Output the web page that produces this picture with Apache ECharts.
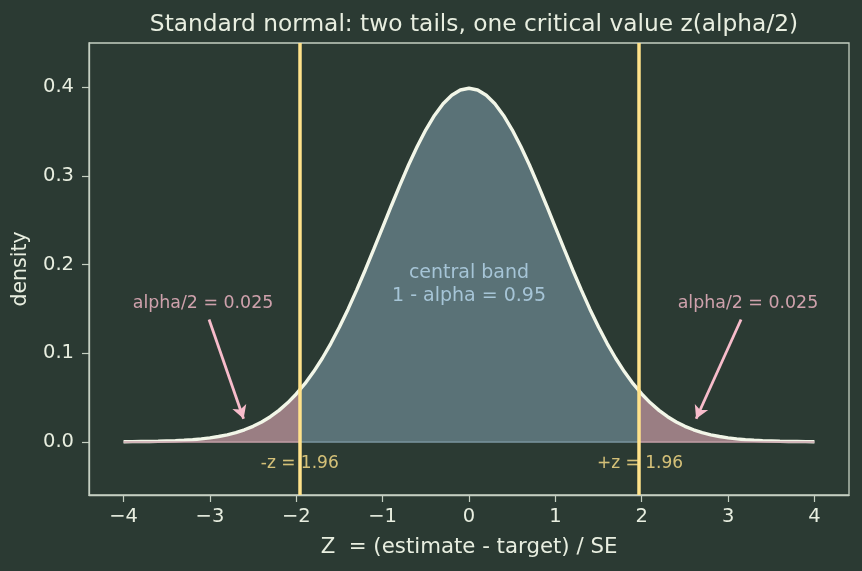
<!DOCTYPE html>
<html>
<head>
<meta charset="utf-8">
<title>Standard normal two tails</title>
<script src="https://cdn.jsdelivr.net/npm/echarts@6/dist/echarts.min.js"></script>
</head>
<body style="margin:0;background:#2b3a33;">
<div id="main" style="width:862px;height:571px;"></div>
<script type="text/javascript">
// z grid (step 0.1) and standard normal density
var zValues = [];
for (var k = -40; k <= 40; k++) zValues.push(k / 10);
var density = [
  0.0001, 0.0002, 0.0003, 0.0004, 0.0006, 0.0009, 0.0012, 0.0017, 0.0024, 0.0033,
  0.0044, 0.0060, 0.0079, 0.0104, 0.0136, 0.0175, 0.0224, 0.0283, 0.0355, 0.0440,
  0.0540, 0.0656, 0.0790, 0.0940, 0.1109, 0.1295, 0.1497, 0.1714, 0.1942, 0.2179,
  0.2420, 0.2661, 0.2897, 0.3123, 0.3332, 0.3521, 0.3683, 0.3814, 0.3910, 0.3970,
  0.3989,
  0.3970, 0.3910, 0.3814, 0.3683, 0.3521, 0.3332, 0.3123, 0.2897, 0.2661, 0.2420,
  0.2179, 0.1942, 0.1714, 0.1497, 0.1295, 0.1109, 0.0940, 0.0790, 0.0656, 0.0540,
  0.0440, 0.0355, 0.0283, 0.0224, 0.0175, 0.0136, 0.0104, 0.0079, 0.0060, 0.0044,
  0.0033, 0.0024, 0.0017, 0.0012, 0.0009, 0.0006, 0.0004, 0.0003, 0.0002, 0.0001
];
var zCrit = 1.96;
var densityAtCrit = 0.0584;
var xTicks = [-4, -3, -2, -1, 0, 1, 2, 3, 4];
var yTicks = [0, 0.1, 0.2, 0.3, 0.4];

var curve = zValues.map(function (z, i) { return [z, density[i]]; });
var leftTail = curve.filter(function (p) { return p[0] < -zCrit; }).concat([[-zCrit, densityAtCrit]]);
var rightTail = [[zCrit, densityAtCrit]].concat(curve.filter(function (p) { return p[0] > zCrit; }));
var central = [[-zCrit, densityAtCrit]]
  .concat(curve.filter(function (p) { return Math.abs(p[0]) < zCrit; }))
  .concat([[zCrit, densityAtCrit]]);

var fg = '#e8eee0';
var pink = '#f7bccb';
var yellow = '#ffe28a';
var font = 'DejaVu Sans';

// filled region with its lighter base edge on y = 0
function fillSeries(data, color, edge) {
  var x0 = data[0][0], x1 = data[data.length - 1][0];
  return {
    type: 'line', data: data, symbol: 'none',
    lineStyle: { width: 0 }, areaStyle: { color: color, opacity: 1, origin: 0 },
    silent: true, z: 1,
    markLine: {
      silent: true, symbol: 'none', label: { show: false },
      lineStyle: { color: edge, width: 1.5, type: 'solid' },
      data: [[{ coord: [x0, 0] }, { coord: [x1, 0] }]]
    }
  };
}

function label(x, y, text, color, size) {
  return {
    value: [x, y],
    label: { show: true, position: 'inside', formatter: text, color: color,
      fontSize: size, fontFamily: font, lineHeight: 23 }
  };
}

var myChart = echarts.init(document.getElementById('main'));
var option = {
  backgroundColor: '#2b3a33',
  animation: false,
  title: {
    text: 'Standard normal: two tails, one critical value z(alpha/2)',
    left: 469, top: 8, textAlign: 'center',
    textStyle: { color: fg, fontSize: 23.3, fontWeight: 'normal', fontFamily: font }
  },
  grid: { left: 89, right: 13, top: 43, bottom: 76, show: true, borderColor: '#c5cfc2', borderWidth: 1.3 },
  xAxis: {
    type: 'value', min: -4.4, max: 4.4,
    name: 'Z  = (estimate - target) / SE', nameLocation: 'middle', nameGap: 42,
    nameTextStyle: { color: fg, fontSize: 21.3, fontFamily: font },
    axisLine: { show: true, onZero: false, lineStyle: { color: '#c5cfc2', width: 1.3 } },
    axisTick: { show: true, inside: false, length: 7, customValues: xTicks, lineStyle: { color: '#c5cfc2', width: 1.2 } },
    axisLabel: { customValues: xTicks, color: fg, fontSize: 19.5, fontFamily: font, margin: 12,
      formatter: function (v) { return v < 0 ? '\u2212' + Math.abs(v) : String(v); } },
    splitLine: { show: false }
  },
  yAxis: {
    type: 'value', min: -0.06, max: 0.45,
    name: 'density', nameLocation: 'middle', nameGap: 58, nameRotate: 90,
    nameTextStyle: { color: fg, fontSize: 20.5, fontFamily: font },
    axisLine: { show: true, onZero: false, lineStyle: { color: '#c5cfc2', width: 1.3 } },
    axisTick: { show: true, inside: false, length: 7, customValues: yTicks, lineStyle: { color: '#c5cfc2', width: 1.2 } },
    axisLabel: { customValues: yTicks, color: fg, fontSize: 19.5, fontFamily: font, margin: 15,
      formatter: function (v) { return v.toFixed(1); } },
    splitLine: { show: false }
  },
  series: [
    fillSeries(leftTail, '#9a7e83', '#c8a2ab'),
    fillSeries(rightTail, '#9a7e83', '#c8a2ab'),
    fillSeries(central, '#5a7277', '#7d97a3'),
    {
      type: 'line', data: curve, symbol: 'none', z: 3,
      lineStyle: { color: '#f2f6e8', width: 3.4 }
    },
    {
      type: 'line', data: [], z: 4,
      markLine: {
        silent: true, symbol: 'none', label: { show: false },
        lineStyle: { color: yellow, width: 3.5, type: 'solid' },
        data: [{ xAxis: -zCrit }, { xAxis: zCrit }]
      }
    },
    {
      type: 'line', data: [], z: 4,
      markLine: {
        silent: true, symbol: ['none', 'arrow'], symbolSize: [11, 13], label: { show: false },
        lineStyle: { color: pink, width: 2.8, type: 'solid' },
        data: [
          [{ coord: [-3.01, 0.138] }, { coord: [-2.61, 0.026] }],
          [{ coord: [3.15, 0.138] }, { coord: [2.63, 0.026] }]
        ]
      }
    },
    {
      type: 'scatter', symbolSize: 0, z: 5, silent: true,
      data: [
        label(0, 0.178, 'central band\n1 - alpha = 0.95', '#b9d9ef', 19),
        label(-3.08, 0.156, 'alpha/2 = 0.025', pink, 17.4),
        label(3.23, 0.156, 'alpha/2 = 0.025', pink, 17.4),
        label(-1.96, -0.025, '-z = 1.96', yellow, 17),
        label(1.98, -0.025, '+z = 1.96', yellow, 17)
      ]
    }
  ]
};
myChart.setOption(option);
</script>
</body>
</html>
